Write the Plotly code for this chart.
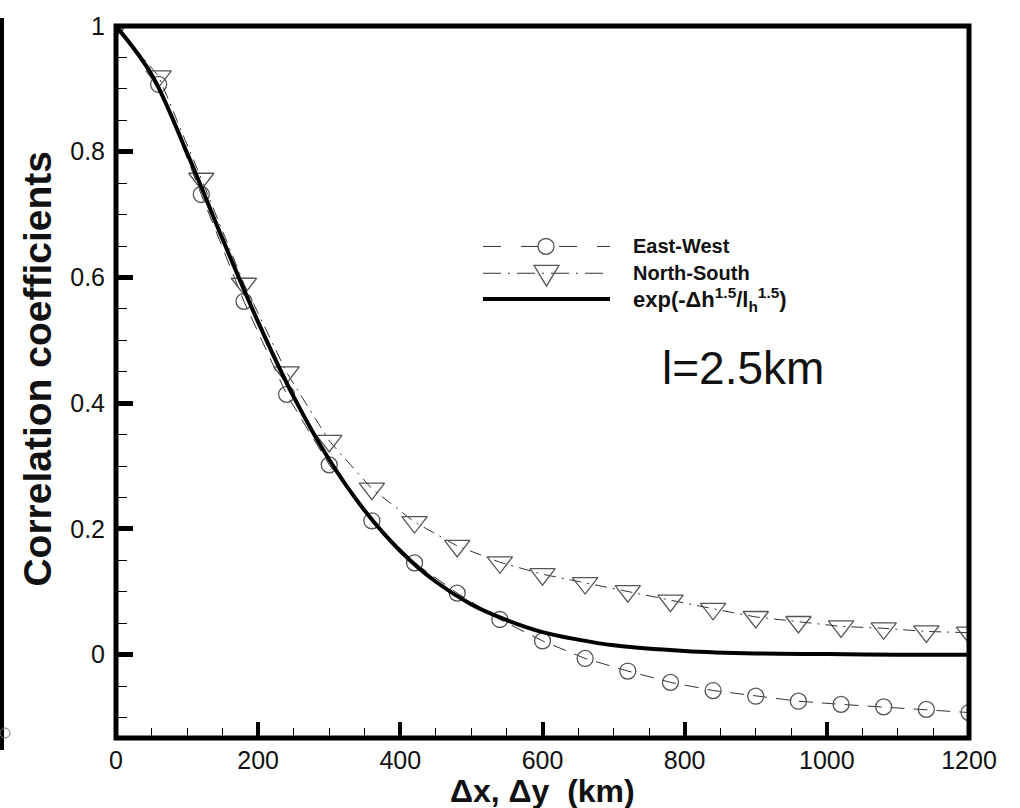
import plotly.graph_objects as go

# Separation distance (km) at which the correlations were computed
dist_km = [0, 60, 120, 180, 240, 300, 360, 420, 480, 540, 600,
           660, 720, 780, 840, 900, 960, 1020, 1080, 1140, 1200]

# Sample correlation, East-West direction
east_west = [1.0, 0.907, 0.732, 0.562, 0.414, 0.302, 0.213, 0.146, 0.098, 0.056, 0.022,
             -0.006, -0.026, -0.044, -0.057, -0.066, -0.074, -0.079, -0.083, -0.087, -0.092]

# Sample correlation, North-South direction
north_south = [1.0, 0.920, 0.757, 0.590, 0.449, 0.340, 0.264, 0.211, 0.173, 0.147, 0.128,
               0.114, 0.101, 0.086, 0.073, 0.060, 0.052, 0.045, 0.042, 0.037, 0.035]

# Fitted model curve exp(-dh^1.5 / l_h^1.5)
model_km = [0, 50, 100, 150, 200, 250, 300, 350, 400, 450, 500, 550, 600,
            650, 700, 800, 900, 1000, 1100, 1200]
model_corr = [1.0, 0.923, 0.798, 0.661, 0.529, 0.410, 0.310, 0.229, 0.165, 0.116, 0.080,
              0.055, 0.036, 0.024, 0.015, 0.006, 0.002, 0.001, 0.0, 0.0]

x_ticks = [0, 200, 400, 600, 800, 1000, 1200]
y_ticks = [0, 0.2, 0.4, 0.6, 0.8, 1]

FONT = "Liberation Sans, Arial, sans-serif"
W, H = 1020, 808
ML, MR, MT, MB = 116, 51, 21, 70
PW, PH = W - ML - MR, H - MT - MB


def fx(px):
    """Page pixel column -> paper x."""
    return (px - ML) / PW


def fy(py):
    """Page pixel row -> paper y."""
    return (H - MB - py) / PH


fig = go.Figure()

fig.add_trace(go.Scatter(
    x=dist_km, y=east_west, mode="lines+markers", name="East-West",
    line=dict(color="#333333", width=1, dash="14px,9px"),
    marker=dict(symbol="circle-open", size=16, color="#555555", line=dict(width=1.3)),
))
fig.add_trace(go.Scatter(
    x=dist_km, y=north_south, mode="lines+markers", name="North-South",
    line=dict(color="#333333", width=1, dash="12px,6px,2px,6px"),
    marker=dict(symbol="triangle-down-open", size=22, color="#555555", line=dict(width=1.3)),
))
fig.add_trace(go.Scatter(
    x=model_km, y=model_corr, mode="lines", name="model",
    line=dict(color="black", width=4, shape="spline"),
))

axis_common = dict(
    showgrid=False, zeroline=False, showline=False,
    ticks="inside", tickcolor="black",
    tickfont=dict(family=FONT, size=25, color="#111111"),
)

fig.update_xaxes(
    range=[0, 1200], tickvals=x_ticks, ticklen=16, tickwidth=4,
    minor=dict(dtick=50, tick0=0, ticks="inside", ticklen=10, tickwidth=1.3, tickcolor="black"),
    ticklabelstandoff=5,
    **axis_common,
)
fig.update_yaxes(
    range=[-0.1325, 1.0], tickvals=y_ticks, ticklen=17, tickwidth=5,
    minor=dict(dtick=0.05, tick0=0, ticks="inside", ticklen=11, tickwidth=1.3, tickcolor="black"),
    ticklabelstandoff=10,
    **axis_common,
)

LEG_ROWS = [243, 270, 296]

shapes = [
    # plot frame
    dict(type="rect", xref="paper", yref="paper", x0=0, x1=1, y0=0, y1=1,
         line=dict(color="black", width=5)),
    # edge rule at the far left of the page
    dict(type="line", xref="paper", yref="paper", x0=fx(2), x1=fx(2), y0=fy(13), y1=fy(750),
         line=dict(color="black", width=4)),
    dict(type="circle", xref="paper", yref="paper", x0=fx(0), x1=fx(10), y0=fy(728), y1=fy(738),
         line=dict(color="#777777", width=1)),
    # legend samples
    dict(type="line", xref="paper", yref="paper", x0=fx(483), x1=fx(610),
         y0=fy(LEG_ROWS[0]), y1=fy(LEG_ROWS[0]),
         line=dict(color="#333333", width=1, dash="18px,20px")),
    dict(type="circle", xref="paper", yref="paper", x0=fx(538), x1=fx(554),
         y0=fy(LEG_ROWS[0] + 8), y1=fy(LEG_ROWS[0] - 8),
         fillcolor="white", line=dict(color="#555555", width=1.3)),
    dict(type="line", xref="paper", yref="paper", x0=fx(483), x1=fx(610),
         y0=fy(LEG_ROWS[1]), y1=fy(LEG_ROWS[1]),
         line=dict(color="#333333", width=1, dash="18px,7px,2px,7px")),
    dict(type="path", xref="paper", yref="paper",
         path=(f"M {fx(534)} {fy(LEG_ROWS[1] - 8)} L {fx(559)} {fy(LEG_ROWS[1] - 8)} "
               f"L {fx(546.5)} {fy(LEG_ROWS[1] + 13)} Z"),
         fillcolor="rgba(255,255,255,0)", line=dict(color="#555555", width=1.3)),
    dict(type="line", xref="paper", yref="paper", x0=fx(483), x1=fx(610),
         y0=fy(LEG_ROWS[2]), y1=fy(LEG_ROWS[2]),
         line=dict(color="black", width=4)),
]

SUP = "<sup>1.5</sup>"
SUB = "<sub>h</sub>"
annotations = [
    dict(text="<b>East-West</b>", x=fx(631), y=fy(LEG_ROWS[0]), xanchor="left", yanchor="middle",
         font=dict(family=FONT, size=20, color="#111111")),
    dict(text="<b>North-South</b>", x=fx(631), y=fy(LEG_ROWS[1]), xanchor="left", yanchor="middle",
         font=dict(family=FONT, size=20, color="#111111")),
    dict(text=f"<b>exp(-Δh{SUP}/l{SUB}{SUP})</b>", x=fx(631), y=fy(LEG_ROWS[2]),
         xanchor="left", yanchor="middle",
         font=dict(family=FONT, size=22, color="#111111")),
]
for a in annotations:
    a.update(xref="paper", yref="paper", showarrow=False)

annotations += [
    dict(text="l=2.5km", x=fx(743), y=fy(365), xref="paper", yref="paper",
         xanchor="center", yanchor="middle", showarrow=False,
         font=dict(family=FONT, size=46, color="#111111")),
    dict(text="<b>Δx, Δy  (km)</b>", x=0.5, y=fy(791), xref="paper", yref="paper",
         xanchor="center", yanchor="middle", showarrow=False,
         font=dict(family=FONT, size=32, color="#111111")),
    dict(text="<b>Correlation coefficients</b>", x=fx(38), y=fy(366), xref="paper", yref="paper",
         xanchor="center", yanchor="middle", textangle=-90, showarrow=False,
         font=dict(family=FONT, size=39, color="#111111")),
]

fig.update_layout(
    width=W, height=H,
    margin=dict(l=ML, r=MR, t=MT, b=MB, pad=0),
    paper_bgcolor="white", plot_bgcolor="white",
    showlegend=False,
    shapes=shapes,
    annotations=annotations,
)

fig.write_html("out.html")
